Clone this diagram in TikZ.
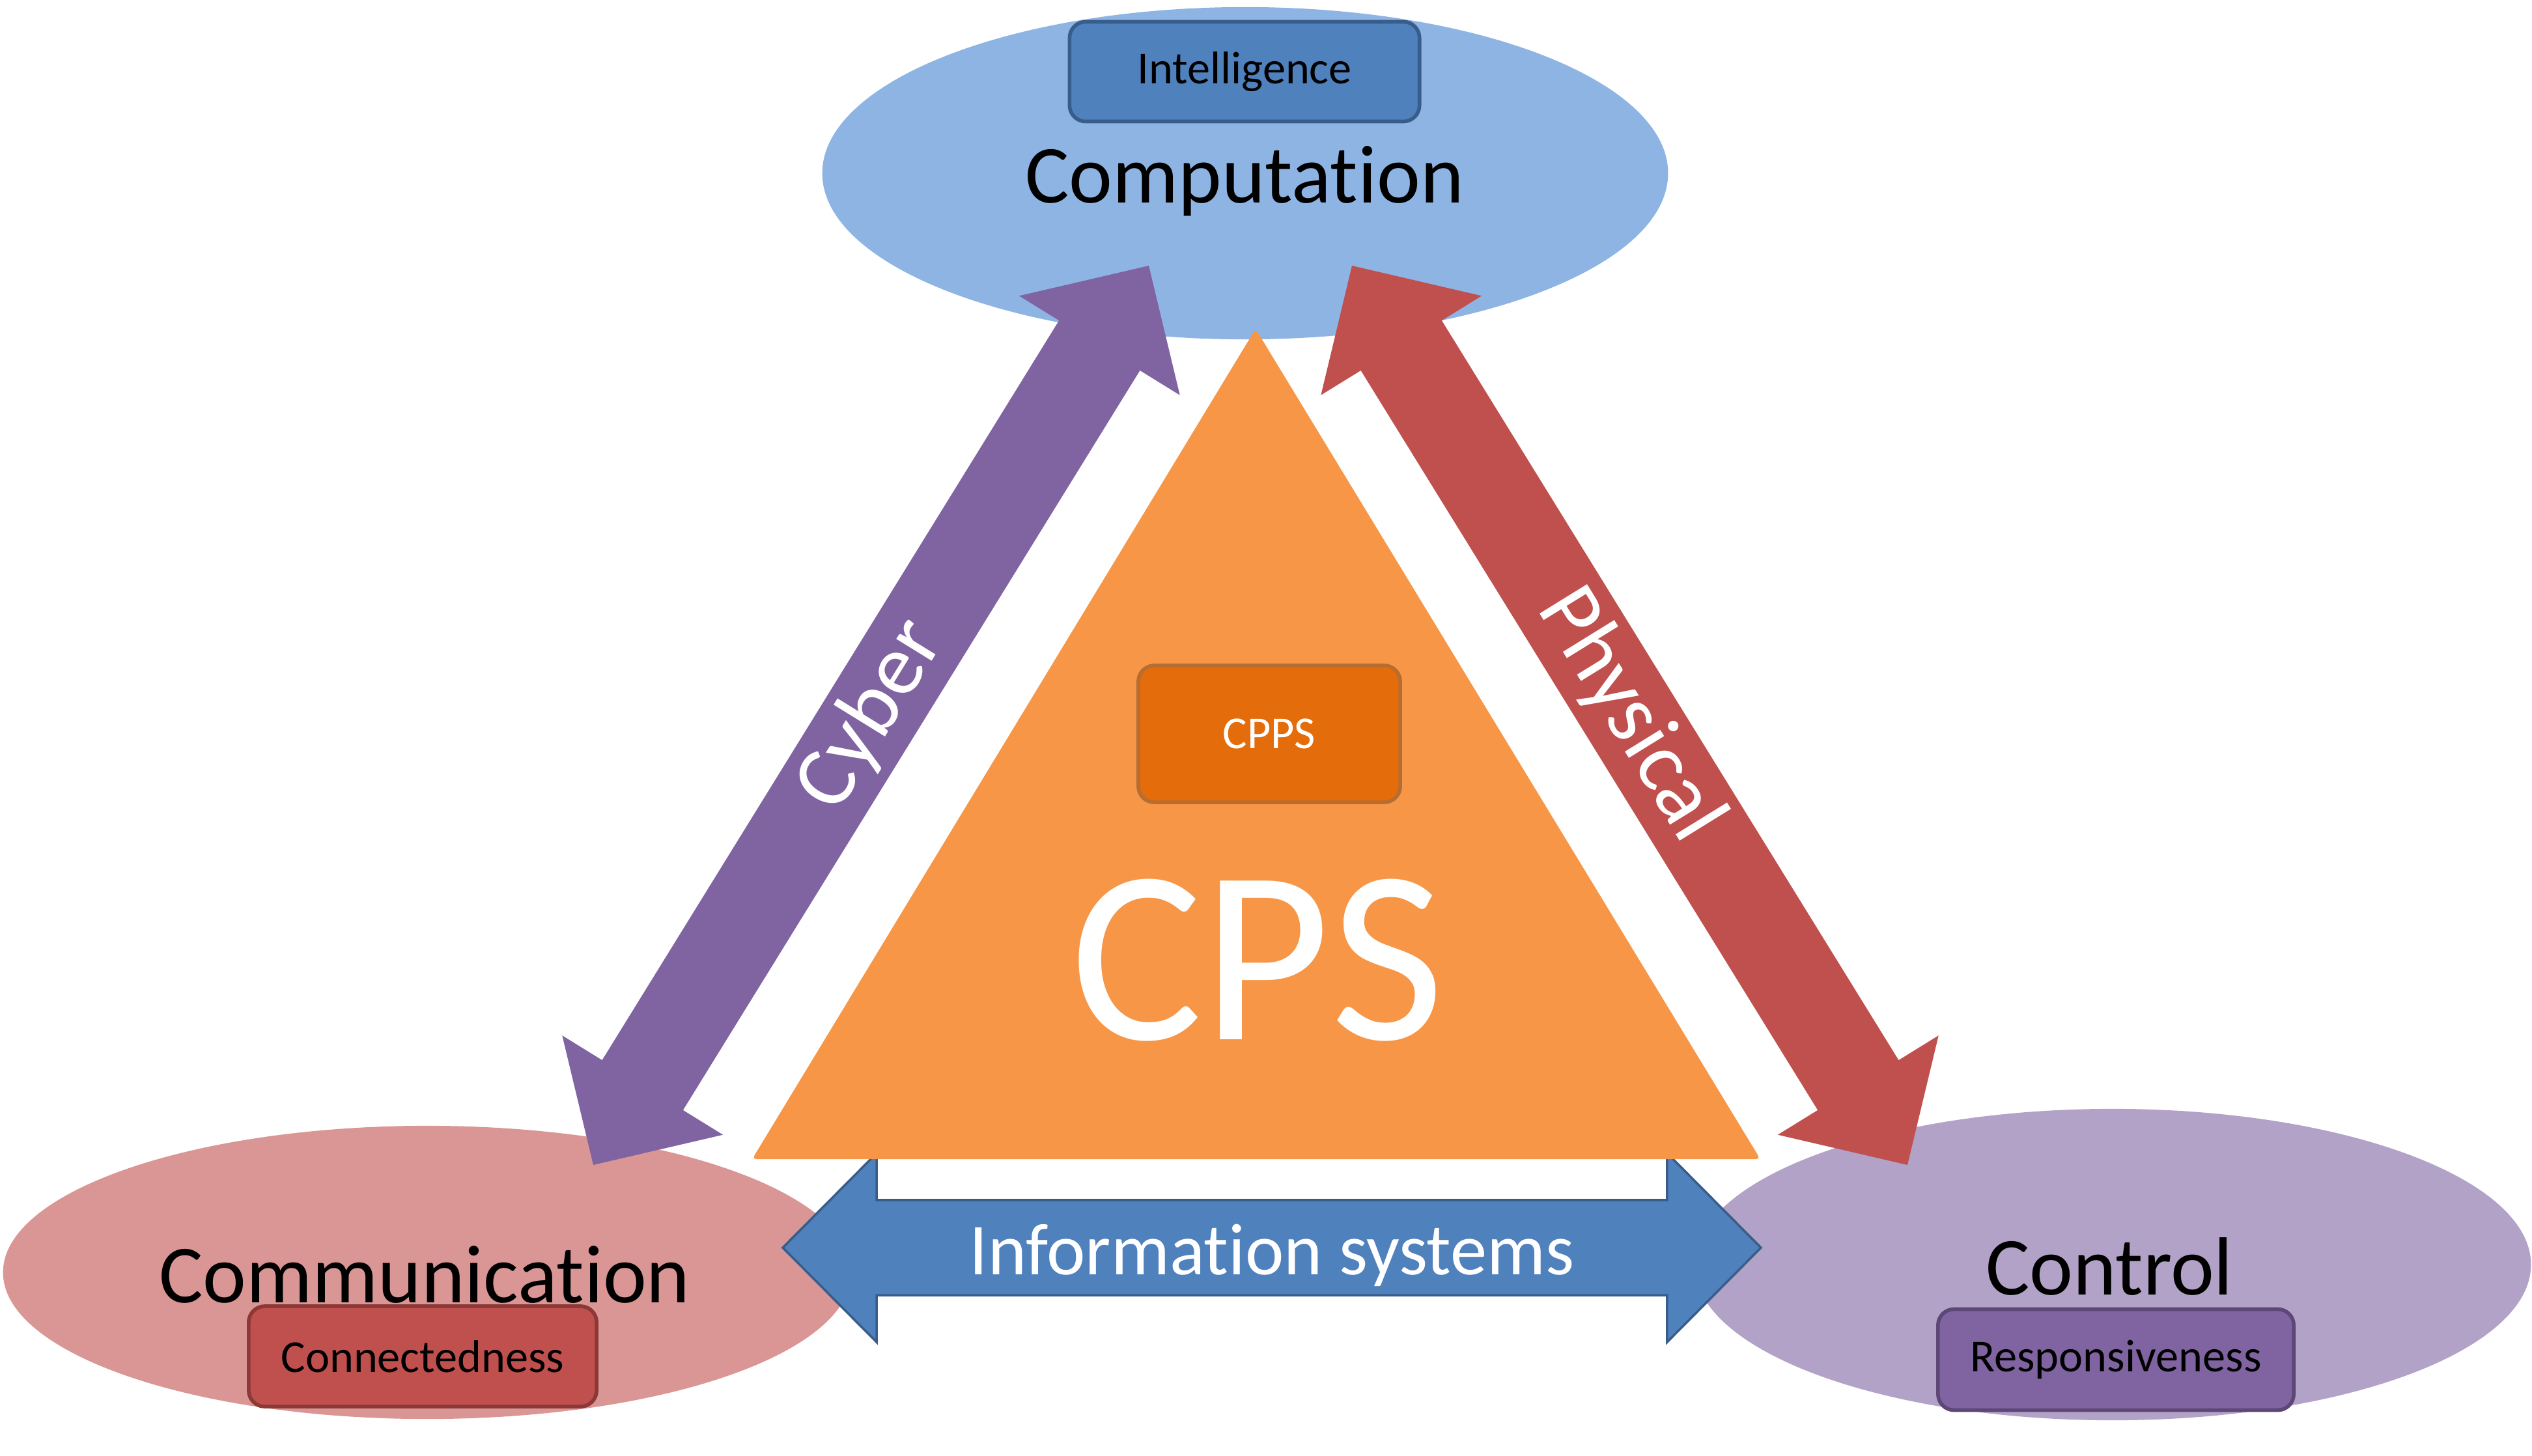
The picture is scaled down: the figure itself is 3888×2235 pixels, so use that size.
\documentclass[tikz,border=0pt]{standalone}
\usepackage{fontspec}
\setmainfont{Carlito}[Ligatures=NoCommon]
\usetikzlibrary{shapes.geometric,calc}

\definecolor{compBlue}{HTML}{8EB4E3}
\definecolor{commRed}{HTML}{D99694}
\definecolor{ctrlViolet}{HTML}{B3A2C7}
\definecolor{accentBlue}{HTML}{4F81BD}
\definecolor{accentBlueDark}{HTML}{385D8A}
\definecolor{accentRed}{HTML}{C0504D}
\definecolor{accentRedDark}{HTML}{8C3836}
\definecolor{accentViolet}{HTML}{8064A2}
\definecolor{accentVioletDark}{HTML}{5C4776}
\definecolor{cpsOrange}{HTML}{F79646}
\definecolor{cppsOrange}{HTML}{E46C0A}
\definecolor{cppsBorder}{HTML}{B66D31}

\begin{document}
\begin{tikzpicture}[x=0.01cm, y=-0.01cm]
        \tikzset{
            zone/.style={ellipse, draw=none, inner sep=0pt},
            zoneLabel/.style={anchor=base, font=\fontsize{36}{40}\selectfont},
            tagBox/.style={
                rectangle,
                rounded corners=7pt,
                line width=1.6pt,
                inner sep=0pt,
                align=center,
                font=\fontsize{20}{24}\selectfont
            },
            cyberArrow/.style={fill=accentViolet},
            physArrow/.style={fill=accentRed},
            infoArrow/.style={fill=accentBlue, draw=accentBlueDark, line width=1pt},
            arrowText/.style={text=white, font=\fontsize{38}{42}\selectfont}
        }

        \useasboundingbox (0,0) rectangle (3888,2235);

        \node[zone, fill=compBlue, minimum width=12.98cm, minimum height=5.10cm] (computation) at (1912,266) {};
        \node[zone, fill=commRed, minimum width=13.02cm, minimum height=4.50cm] (communication) at (656,1954) {};
        \node[zone, fill=ctrlViolet, minimum width=12.84cm, minimum height=4.78cm] (control) at (3244,1942) {};

        \coordinate (cyberTop) at (1764,408);
        \coordinate (cyberBot) at (911,1789);
        \coordinate (physTop) at (2076,408);
        \coordinate (physBot) at (2929,1789);
        \coordinate (infoLeft) at (1202,1916);
        \coordinate (infoRight) at (2704,1916);

        \foreach \from/\to/\kind in {cyberBot/cyberTop/cyberArrow, physTop/physBot/physArrow, infoLeft/infoRight/infoArrow}{
            \coordinate (headA) at ($(\from)!1.44cm!(\to)$);
            \coordinate (headB) at ($(\to)!1.44cm!(\from)$);
            \path[\kind] (\from) -- ($(headA)!1.45cm!90:(\to)$) -- ($(headA)!0.73cm!90:(\to)$)
                -- ($(headB)!0.73cm!-90:(\from)$) -- ($(headB)!1.45cm!-90:(\from)$) -- (\to)
                -- ($(headB)!1.45cm!90:(\from)$) -- ($(headB)!0.73cm!90:(\from)$)
                -- ($(headA)!0.73cm!-90:(\to)$) -- ($(headA)!1.45cm!-90:(\to)$) -- cycle;
        }

        \fill[cpsOrange, rounded corners=2pt] (1928,505) -- (2703,1780) -- (1155,1780) -- cycle;

        \node[zoneLabel] (computationText) at (1911,311) {Computation};
        \node[zoneLabel] (communicationText) at (652,2000) {Communication};
        \node[zoneLabel] (controlText) at (3239,1988) {Control};

        \node[tagBox, fill=accentBlue, draw=accentBlueDark, minimum width=5.37cm, minimum height=1.53cm] (intelligence) at (1911,110) {Intelligence};
        \node[tagBox, fill=accentRed, draw=accentRedDark, minimum width=5.34cm, minimum height=1.54cm] (connectedness) at (649,2083) {Connectedness};
        \node[tagBox, fill=accentViolet, draw=accentVioletDark, minimum width=5.46cm, minimum height=1.55cm] (responsiveness) at (3249,2088) {Responsiveness};
        \node[tagBox, fill=cppsOrange, draw=cppsBorder, text=white, minimum width=4.02cm, minimum height=2.10cm] (cpps) at (1949,1127) {CPPS};

        \node[anchor=base, text=white, font=\fontsize{108}{120}\selectfont] (cps) at (1931,1596) {CPS};

        \path (cyberBot) -- (cyberTop) node[midway, sloped, arrowText] (cyberLabel) {Cyber};
        \path (physTop) -- (physBot) node[midway, sloped, arrowText] (physLabel) {Physical};
        \node[anchor=base, text=white, font=\fontsize{32}{36}\selectfont] (infoLabel) at (1953,1957) {Information systems};
    \end{tikzpicture}
\end{document}
